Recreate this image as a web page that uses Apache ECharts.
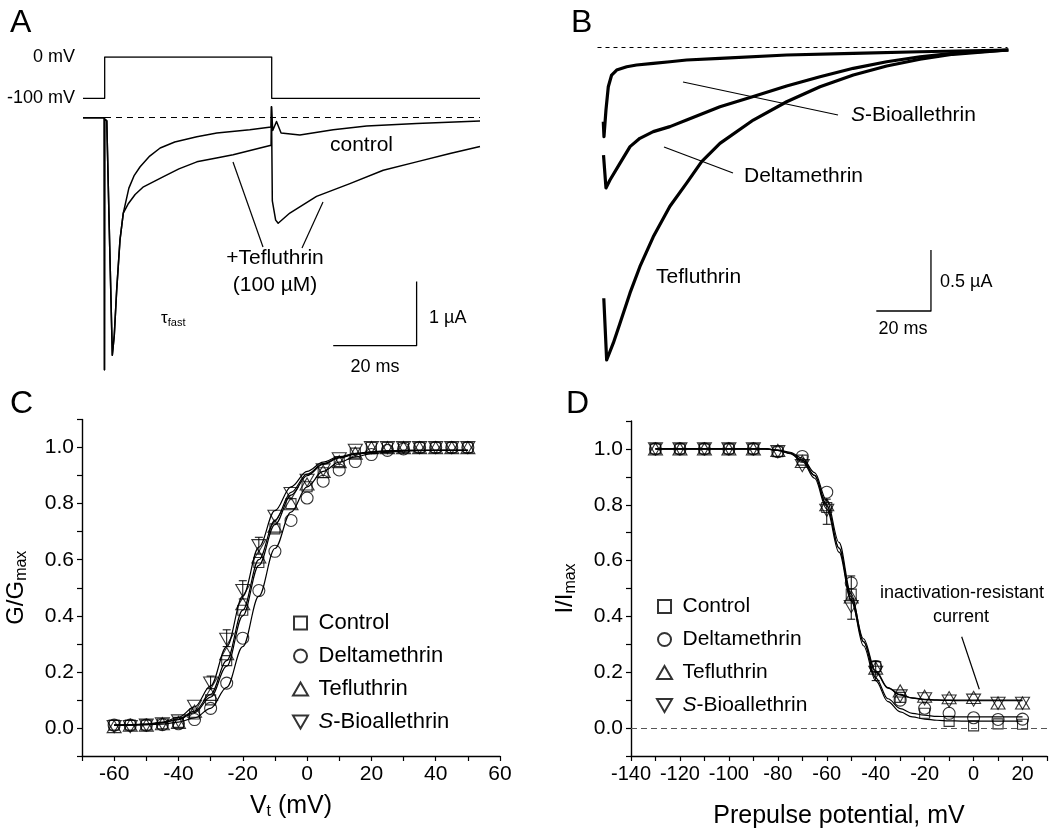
<!DOCTYPE html>
<html>
<head>
<meta charset="utf-8">
<script src="https://cdn.jsdelivr.net/npm/echarts@6/dist/echarts.min.js"></script>
<style>html,body{margin:0;padding:0;background:#fff}#chart{width:1050px;height:830px}</style>
</head>
<body>
<div id="chart"></div>
<script>
// ---------- DATA ----------
// Panel A: voltage protocol (ms, mV) and current traces (ms, µA)
const voltageA = [[0,-100],[5.2,-100],[5.2,0],[45.25,0],[45.25,-100],[95.2,-100]];
const controlTraceA = [[0,0],[5.1,0],[5.15,-3.94],[5.2,-0.02],[5.7,-0.05],[6.4,-2.0],[7.03,-3.71],[7.5,-3.4],[8.08,-2.69],[8.87,-1.91],[9.66,-1.49],[11,-1.1],[12.3,-0.9],[13.7,-0.766],[16,-0.6],[18.5,-0.473],[22,-0.38],[27.3,-0.297],[32.1,-0.24],[40,-0.19],[45.1,-0.145],[45.2,0.17],[45.5,-0.2],[46.4,-0.06],[47.5,-0.24],[52,-0.27],[60,-0.19],[68,-0.13],[80,-0.09],[95.2,-0.05]];
const tefTraceA = [[0,0],[5.1,0],[5.15,-3.94],[5.2,-0.02],[5.7,-0.05],[6.4,-2.0],[7.03,-3.71],[7.5,-3.4],[8.08,-2.69],[8.87,-1.91],[9.66,-1.49],[10.9,-1.34],[12.5,-1.2],[14.5,-1.08],[19.3,-0.92],[23,-0.8],[27.3,-0.69],[32,-0.63],[36,-0.58],[45.1,-0.43],[45.2,0.17],[45.4,-1.3],[46.2,-1.6],[46.8,-1.65],[49.6,-1.49],[56,-1.23],[64,-1.03],[72,-0.82],[80,-0.69],[88,-0.56],[95.2,-0.45]];
const scaleA = {ms: 20, uA: 1};
// Panel B: tail currents (ms, µA)
const sbioTraceB = [[0.12,-0.606],[0.37,-0.729],[1.1,-0.51],[1.95,-0.32],[3.17,-0.224],[5.0,-0.183],[8.7,-0.156],[12.3,-0.142],[18.4,-0.128],[24.5,-0.115],[30.6,-0.101],[42.8,-0.087],[67.2,-0.06],[91.6,-0.046],[116,-0.033],[148.3,-0.019]];
const deltaTraceB = [[0.2,-0.88],[1.1,-1.15],[2.56,-1.084],[6.2,-0.948],[9.9,-0.811],[13.5,-0.743],[18.4,-0.688],[24.5,-0.647],[30.6,-0.593],[42.8,-0.484],[55,-0.40],[67.2,-0.314],[79.4,-0.238],[91.6,-0.169],[103.8,-0.115],[116,-0.074],[128,-0.046],[148.3,-0.019]];
const tefTraceB = [[0.3,-2.054],[1.35,-2.56],[3.8,-2.42],[6.2,-2.26],[9.9,-2.01],[13.5,-1.795],[18.4,-1.55],[24.5,-1.30],[30.6,-1.11],[36.1,-0.934],[42.8,-0.784],[55,-0.593],[67.2,-0.443],[79.4,-0.32],[91.6,-0.224],[103.8,-0.15],[116,-0.095],[128,-0.054],[148.3,-0.019]];
const scaleB = {ms: 20, uA: 0.5};
// Panel C: activation
const xC = [-60,-55,-50,-45,-40,-35,-30,-25,-20,-15,-10,-5,0,5,10,15,20,25,30,35,40,45,50];
const ctrlC  = [0.01,0.01,0.01,0.015,0.02,0.05,0.10,0.24,0.42,0.59,0.71,0.80,0.86,0.91,0.95,0.98,1.0,1.0,1.0,1.0,1.0,1.0,1.0];
const deltaC = [0.01,0.01,0.01,0.012,0.015,0.03,0.07,0.16,0.32,0.49,0.63,0.74,0.82,0.88,0.92,0.95,0.975,0.99,0.995,1.0,1.0,1.0,1.0];
const tefC   = [0.005,0.01,0.01,0.015,0.02,0.06,0.12,0.265,0.443,0.61,0.72,0.80,0.87,0.915,0.95,0.98,1.0,1.0,1.0,1.0,1.0,1.0,1.0];
const sbioC  = [0.005,0.005,0.01,0.015,0.025,0.077,0.16,0.316,0.49,0.65,0.755,0.836,0.883,0.92,0.96,0.99,1.0,1.0,1.0,1.0,1.0,1.0,1.0];
const fitCtrlC  = [0.01,0.011,0.013,0.018,0.03,0.055,0.11,0.22,0.40,0.58,0.725,0.83,0.90,0.94,0.963,0.976,0.983,0.987,0.989,0.99,0.99,0.99,0.99];
const fitDeltaC = [0.01,0.01,0.011,0.014,0.021,0.036,0.07,0.145,0.29,0.47,0.64,0.77,0.86,0.915,0.948,0.967,0.978,0.984,0.987,0.989,0.99,0.99,0.99];
const fitTefC   = [0.01,0.011,0.013,0.019,0.032,0.06,0.12,0.24,0.42,0.60,0.74,0.84,0.905,0.943,0.965,0.977,0.984,0.988,0.99,0.99,0.99,0.99,0.99];
const fitSbioC  = [0.01,0.011,0.014,0.021,0.038,0.075,0.15,0.29,0.47,0.645,0.775,0.86,0.915,0.948,0.968,0.979,0.985,0.988,0.99,0.99,0.99,0.99,0.99];
const errC = [[-30,0.14,0.185],[-25,0.29,0.35],[-20,0.46,0.525],[-15,0.62,0.68]];
// Panel D: steady-state inactivation
const xD = [-130,-120,-110,-100,-90,-80,-70,-60,-50,-40,-30,-20,-10,0,10,20];
const ctrlD  = [1,1,1,1,1,0.99,0.96,0.79,0.48,0.22,0.11,0.053,0.024,0.008,0.015,0.014];
const deltaD = [1,1,1,1,1,0.99,0.973,0.845,0.52,0.22,0.10,0.071,0.053,0.037,0.031,0.032];
const tefD   = [1,1,1,1,1,0.995,0.955,0.80,0.47,0.215,0.133,0.114,0.109,0.11,0.09,0.09];
const sbioD  = [1,1,1,1,1,0.99,0.94,0.78,0.435,0.20,0.115,0.105,0.097,0.10,0.089,0.089];
const xFitD = [-130,-125,-120,-115,-110,-105,-100,-95,-90,-85,-80,-75,-70,-65,-60,-55,-50,-45,-40,-35,-30,-25,-20,-15,-10,-5,0,5,10,15,20];
const fitCtrlD  = [1,1,1,1,1,1,1,1,1,1,0.995,0.985,0.96,0.905,0.80,0.645,0.46,0.295,0.17,0.095,0.058,0.04,0.032,0.028,0.026,0.025,0.025,0.025,0.025,0.025,0.025];
const fitDeltaD = [1,1,1,1,1,1,1,1,1,1,0.996,0.988,0.967,0.915,0.815,0.665,0.48,0.31,0.18,0.105,0.07,0.053,0.046,0.042,0.041,0.04,0.04,0.04,0.04,0.04,0.04];
const fitTefD   = [1,1,1,1,1,1,1,1,1,1,0.995,0.985,0.96,0.905,0.795,0.645,0.47,0.32,0.205,0.145,0.12,0.108,0.103,0.101,0.1,0.1,0.1,0.1,0.1,0.1,0.1];
const fitSbioD  = [1,1,1,1,1,1,1,1,1,1,0.995,0.983,0.955,0.895,0.785,0.63,0.455,0.31,0.2,0.143,0.119,0.107,0.102,0.1,0.099,0.098,0.098,0.098,0.098,0.098,0.098];
const errD = [[-60,0.73,0.82],[-50,0.39,0.545],[-40,0.17,0.24]];
const names = ['Control','Deltamethrin','Tefluthrin','S-Bioallethrin'];

// ---------- STYLE ----------
const FONT = '"Liberation Sans", Arial, Helvetica, sans-serif';
const SYM = {
  'Control': {symbol:'path://M0,0L10,0L10,10L0,10Z', size:10},
  'Deltamethrin': {symbol:'circle', size:12},
  'Tefluthrin': {symbol:'path://M10,0L20,17.3L0,17.3Z', size:14},
  'S-Bioallethrin': {symbol:'path://M0,0L20,0L10,17.3Z', size:14}
};
const chart = echarts.init(document.getElementById('chart'), null, {renderer:'canvas'});

function pairs(xs, ys){ return xs.map((x,i)=>[x, ys[i]]); }
function traceSeries(gi, data, w){
  return {type:'line', xAxisIndex:gi, yAxisIndex:gi, data, showSymbol:false, symbol:'none', silent:true,
    lineStyle:{color:'#000', width:w, join:'round'}, z:2};
}
function fitSeries(gi, xs, ys){
  return {type:'line', xAxisIndex:gi, yAxisIndex:gi, data:pairs(xs,ys), smooth:0.35, smoothMonotone:'x',
    showSymbol:false, symbol:'none', silent:true, lineStyle:{color:'#000', width:1.2}, z:2};
}
function scatterSeries(gi, name, xs, ys){
  return {type:'scatter', name, xAxisIndex:gi, yAxisIndex:gi, data:pairs(xs,ys),
    symbol:SYM[name].symbol, symbolSize:SYM[name].size, symbolKeepAspect:true,
    itemStyle:{color:'transparent', borderColor:'#000', borderWidth:1.1}, z:4, silent:true};
}
function errSeries(gi, data){
  return {type:'custom', xAxisIndex:gi, yAxisIndex:gi, data, z:3, silent:true,
    renderItem:(params, api)=>{
      const x = api.value(0), lo = api.value(1), hi = api.value(2);
      const p1 = api.coord([x, lo]), p2 = api.coord([x, hi]); const w = 4;
      const st = {stroke:'#000', lineWidth:1};
      return {type:'group', children:[
        {type:'line', shape:{x1:p1[0],y1:p1[1],x2:p2[0],y2:p2[1]}, style:st},
        {type:'line', shape:{x1:p1[0]-w,y1:p1[1],x2:p1[0]+w,y2:p1[1]}, style:st},
        {type:'line', shape:{x1:p2[0]-w,y1:p2[1],x2:p2[0]+w,y2:p2[1]}, style:st}
      ]};
    }};
}
function scaleBar(gi, t0, y0, s){
  return traceSeries(gi, [[t0, y0],[t0+s.ms, y0],[t0+s.ms, y0+s.uA]], 1.3);
}
function txt(text, x, y, size, align, extra){
  return {type:'text', silent:true, style:Object.assign({text, x, y, fill:'#000',
    font: size+'px '+FONT, fontSize:size, fontFamily:FONT,
    align:align||'left', textAlign:align||'left', verticalAlign:'middle', textVerticalAlign:'middle'}, extra||{})};
}
function seg(x1,y1,x2,y2){
  return {type:'line', silent:true, shape:{x1,y1,x2,y2}, style:{stroke:'#000', lineWidth:1.2}};
}
const labFmt20 = v => (Math.round(v) % 20 === 0 ? String(Math.round(v)) : '');
const labFmtY = v => { const r = Math.round(v*10); return r % 2 === 0 ? (r/10).toFixed(1) : ''; };
function dataAxis(gi, min, max, interval, fmt, fs, extra){
  return Object.assign({type:'value', gridIndex:gi, min, max, interval,
    axisLine:{show:true, onZero:false, lineStyle:{color:'#000', width:1.4}},
    axisTick:{show:true, length:5, lineStyle:{color:'#000', width:1.2}},
    splitLine:{show:false},
    axisLabel:{formatter:fmt, color:'#000', fontSize:fs, fontFamily:FONT, margin:8}
  }, extra||{});
}
function hiddenAxis(gi, min, max){
  return {type:'value', gridIndex:gi, min, max, show:false, splitLine:{show:false}};
}
const richName = (sz) => ({
  a:{fontSize:sz, fontFamily:FONT, color:'#000'},
  s:{fontSize:16, fontFamily:FONT, color:'#000', padding:[12,0,0,0]}
});
const legendFmt = n => n === 'S-Bioallethrin' ? '{i|S}{n|-Bioallethrin}' : '{n|'+n+'}';
const legendRich = (sz) => ({
  i:{fontStyle:'italic', fontSize:sz, fontFamily:FONT, color:'#000'},
  n:{fontSize:sz, fontFamily:FONT, color:'#000'}
});

const option = {
  animation:false,
  backgroundColor:'#fff',
  grid:[
    {left:83, top:57, width:397, height:41.3},
    {left:83, top:98.5, width:397, height:288},
    {left:597.5, top:35.5, width:410, height:341.6},
    {left:82, top:419.5, width:418, height:336.5},
    {left:631, top:421, width:417, height:336}
  ],
  xAxis:[
    hiddenAxis(0, 0, 95.2),
    hiddenAxis(1, 0, 95.2),
    hiddenAxis(2, -2, 148),
    dataAxis(3, -70, 60, 10, labFmt20, 21, {name:'{a|V}{s|t}{a| (mV)}', nameLocation:'middle', nameGap:36,
      nameTextStyle:{rich:richName(25)}}),
    dataAxis(4, -140, 30, 10, labFmt20, 20, {name:'Prepulse potential, mV', nameLocation:'middle', nameGap:48,
      nameTextStyle:{fontSize:25, fontFamily:FONT, color:'#000'}})
  ],
  yAxis:[
    hiddenAxis(0, -100, 0),
    hiddenAxis(1, -4.2, 0.3),
    hiddenAxis(2, -2.7, 0.1),
    dataAxis(3, -0.1, 1.1, 0.1, labFmtY, 21, {name:'{a|G/G}{s|max}', nameLocation:'middle', nameRotate:90, nameGap:52,
      nameTextStyle:{rich:richName(24)}}),
    dataAxis(4, -0.1, 1.1, 0.1, labFmtY, 21, {name:'{a|I/I}{s|max}', nameLocation:'middle', nameRotate:90, nameGap:52,
      nameTextStyle:{rich:richName(24)}})
  ],
  legend:[
    {orient:'vertical', left:292, top:612, padding:0, itemWidth:26, itemHeight:13, itemGap:11, selectedMode:false,
      data:names, formatter:legendFmt, textStyle:{rich:legendRich(22), fontSize:22, fontFamily:FONT}},
    {orient:'vertical', left:656, top:596, padding:0, itemWidth:26, itemHeight:13, itemGap:12, selectedMode:false,
      data:names, formatter:legendFmt, textStyle:{rich:legendRich(21), fontSize:21, fontFamily:FONT}}
  ],
  series:[
    // Panel A
    traceSeries(0, voltageA, 1.3),
    Object.assign(traceSeries(1, controlTraceA, 1.5), {markLine:{silent:true, symbol:'none', label:{show:false},
      lineStyle:{color:'#000', type:[6,5], width:1.1}, data:[{yAxis:0}]}}),
    traceSeries(1, tefTraceA, 1.5),
    scaleBar(1, 60, -3.56, scaleA),
    // Panel B
    Object.assign(traceSeries(2, tefTraceB, 3.2), {markLine:{silent:true, symbol:'none', label:{show:false},
      lineStyle:{color:'#000', type:[4,4], width:1}, data:[{yAxis:0}]}}),
    traceSeries(2, deltaTraceB, 3.2),
    traceSeries(2, sbioTraceB, 3.2),
    scaleBar(2, 100, -2.158, scaleB),
    // Panel C
    fitSeries(3, xC, fitCtrlC), fitSeries(3, xC, fitDeltaC), fitSeries(3, xC, fitTefC), fitSeries(3, xC, fitSbioC),
    errSeries(3, errC),
    scatterSeries(3, 'Control', xC, ctrlC),
    scatterSeries(3, 'Deltamethrin', xC, deltaC),
    scatterSeries(3, 'Tefluthrin', xC, tefC),
    scatterSeries(3, 'S-Bioallethrin', xC, sbioC),
    // Panel D
    Object.assign(fitSeries(4, xFitD, fitCtrlD), {markLine:{silent:true, symbol:'none', label:{show:false},
      lineStyle:{color:'#555', type:[6,4], width:1.1}, data:[{yAxis:0}]}}),
    fitSeries(4, xFitD, fitDeltaD), fitSeries(4, xFitD, fitTefD), fitSeries(4, xFitD, fitSbioD),
    errSeries(4, errD),
    scatterSeries(4, 'Control', xD, ctrlD),
    scatterSeries(4, 'Deltamethrin', xD, deltaD),
    scatterSeries(4, 'Tefluthrin', xD, tefD),
    scatterSeries(4, 'S-Bioallethrin', xD, sbioD)
  ],
  graphic:[
    txt('A', 10, 23, 32), txt('B', 571, 23, 32), txt('C', 10, 404, 32), txt('D', 566, 404, 32),
    txt('0 mV', 75, 57, 18, 'right'), txt('-100 mV', 75, 98, 18, 'right'),
    txt('control', 330, 145, 21), txt('+Tefluthrin', 275, 258, 21, 'center'), txt('(100 \u00b5M)', 275, 285, 21, 'center'),
    seg(233,162,263,247), seg(323,202,302,248),
    {type:'text', silent:true, style:{text:'{t|\u03c4}{s|fast}', x:161, y:318, align:'left', verticalAlign:'middle',
      textAlign:'left', textVerticalAlign:'middle',
      rich:{t:{fontSize:17, fontFamily:FONT, fill:'#000', color:'#000'}, s:{fontSize:11, fontFamily:FONT, fill:'#000', color:'#000', padding:[9,0,0,0]}}}},
    txt('1 \u00b5A', 429, 318, 18), txt('20 ms', 375, 367, 18, 'center'),
    txt('{i|S}-Bioallethrin', 851, 115, 21, 'left', {rich:{i:{fontStyle:'italic', fontSize:21, fontFamily:FONT}}}),
    txt('Deltamethrin', 744, 176, 21), txt('Tefluthrin', 656, 277, 21),
    seg(683,82,838,115), seg(664,147,733,173),
    txt('0.5 \u00b5A', 940, 282, 18), txt('20 ms', 903, 329, 18, 'center'),
    txt('inactivation-resistant', 962, 593, 18, 'center'), txt('current', 961, 617, 18, 'center'),
    seg(961.7,636.7,979.3,689.3)
  ]
};
chart.setOption(option);
</script>
</body>
</html>
